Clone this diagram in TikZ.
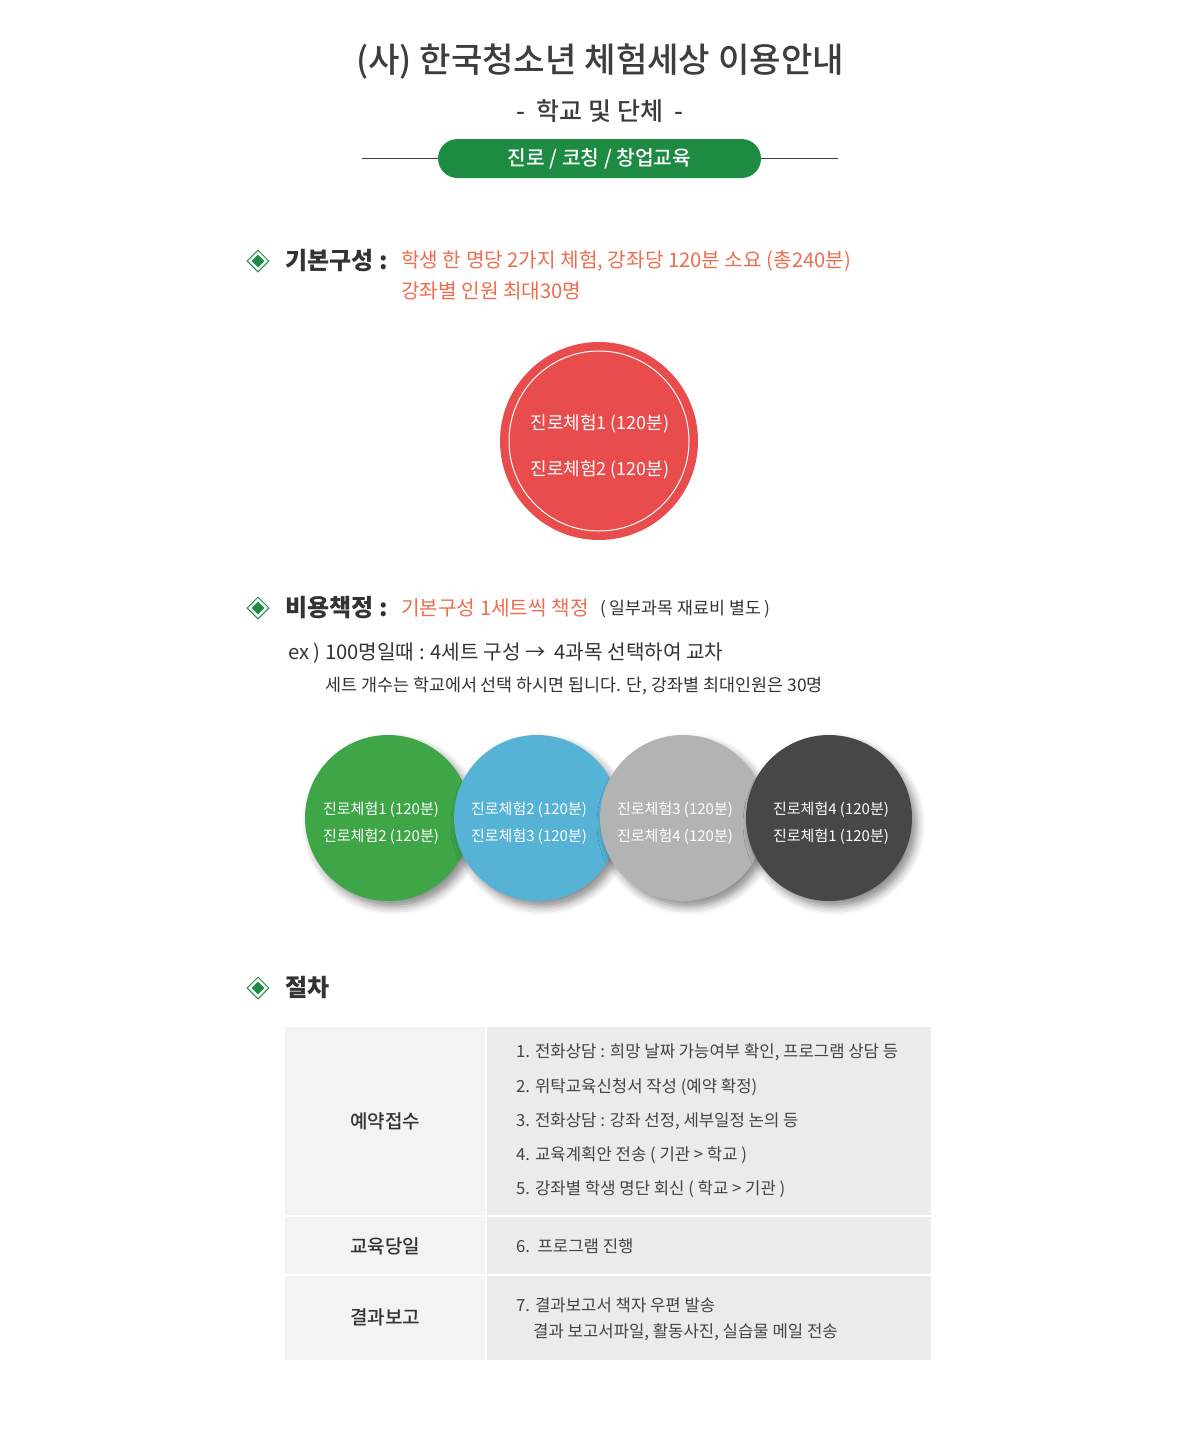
\documentclass[tikz,border=0pt]{standalone}
\usepackage{fontspec}
\setmainfont{Noto Sans CJK KR}
\newfontfamily\krmed{Noto Sans CJK KR Medium}
\usetikzlibrary{shapes.geometric,shadows.blur}

\definecolor{titlegray}{HTML}{3D3D3D}
\definecolor{darktext}{HTML}{333333}
\definecolor{bodytext}{HTML}{444444}
\definecolor{pillgreen}{HTML}{1E8B43}
\definecolor{salmon}{HTML}{EE6C4D}
\definecolor{redcircle}{HTML}{E84C4D}
\definecolor{setgreen}{HTML}{3EA646}
\definecolor{setblue}{HTML}{56B3D5}
\definecolor{setgray}{HTML}{B3B3B3}
\definecolor{setdark}{HTML}{474747}
\definecolor{cellleft}{HTML}{F3F3F3}
\definecolor{cellright}{HTML}{EBEBEB}

\tikzstyle{lbl}=[inner sep=0pt, anchor=west]
\tikzstyle{head}=[lbl, text=darktext, font=\bfseries\fontsize{24}{27}\selectfont]
\tikzstyle{accent}=[lbl, text=salmon, font=\fontsize{20.2}{23}\selectfont]
\tikzstyle{markout}=[diamond, draw=pillgreen, fill=white, line width=1pt, inner sep=0pt, minimum width=22pt, minimum height=22pt]
\tikzstyle{markin}=[diamond, fill=pillgreen, inner sep=0pt, minimum width=13pt, minimum height=13pt]
\tikzstyle{setcircle}=[circle, minimum size=166pt, inner sep=0pt, blur shadow={shadow xshift=5pt, shadow yshift=-6pt, shadow blur radius=8pt, shadow opacity=45}]
\tikzstyle{settext}=[inner sep=0pt, text=white, align=center, font=\fontsize{15}{27}\selectfont]
\tikzstyle{celltext}=[lbl, text=bodytext, font=\fontsize{16.7}{19}\selectfont]
\tikzstyle{celllabel}=[inner sep=0pt, text=darktext, font=\krmed\fontsize{19}{22}\selectfont]

\begin{document}
\begin{tikzpicture}[x=1pt, y=-1pt]
\useasboundingbox (0,0) rectangle (1200,1430);

% title block
\node[text=titlegray, font=\krmed\fontsize{34.2}{38}\selectfont] (title) at (600,62) {(사) 한국청소년 체험세상 이용안내};
\node[text=titlegray, font=\krmed\fontsize{25}{28}\selectfont] (subtitle) at (600,111) {-\ \ 학교 및 단체\ \ -};
\node[fill=pillgreen, text=white, minimum width=323pt, minimum height=39pt, rounded corners=19.5pt, inner sep=0pt, font=\krmed\fontsize{20.3}{23}\selectfont] (pill) at (599.5,158.5) {진로 / 코칭 / 창업교육};
\coordinate (ruleL) at (362,158.5);
\coordinate (ruleR) at (838,158.5);
\draw[titlegray, line width=0.8pt] (pill.west) -- (ruleL);
\draw[titlegray, line width=0.8pt] (pill.east) -- (ruleR);

% section markers
\foreach \y/\n in {261/a, 608/b, 988/c} {
  \node[markout] (mark\n) at (258,\y) {};
  \node[markin] (dot\n) at (mark\n) {};
}

% basic set
\node[head] (basic) at (285,261) {기본구성 :};
\node[accent] (basicA) at (401,261) {학생 한 명당 2가지 체험, 강좌당 120분 소요 (총240분)};
\node[accent] (basicB) at (401,291) {강좌별 인원 최대30명};

\node[circle, fill=redcircle, minimum size=198pt, inner sep=0pt] (redc) at (599,441) {};
\node[circle, draw=white, line width=1pt, minimum size=180pt, inner sep=0pt] (redring) at (redc) {};
\node[text=white, align=center, font=\fontsize{18}{46}\selectfont] (redtext) at (600,447) {진로체험1 (120분)\\진로체험2 (120분)};

% cost
\node[head] (cost) at (285,608) {비용책정 :};
\node[accent] (costA) at (401,608) {기본구성 1세트씩 책정};
\node[lbl, text=darktext, font=\fontsize{17.3}{20}\selectfont] (costB) at (600,609) {( 일부과목 재료비 별도 )};
\node[lbl, text=darktext, font=\fontsize{20.2}{23}\selectfont] (example) at (288,653) {ex ) 100명일때 : 4세트 구성 →\ \ 4과목 선택하여 교차};
\node[lbl, text=darktext, font=\fontsize{17.4}{20}\selectfont] (note) at (325,686) {세트 개수는 학교에서 선택 하시면 됩니다. 단, 강좌별 최대인원은 30명};

\node[setcircle, fill=setgreen] (set1) at (388,818) {};
\node[setcircle, fill=setblue] (set2) at (537,818) {};
\node[setcircle, fill=setgray] (set3) at (683,818) {};
\node[setcircle, fill=setdark] (set4) at (829,818) {};
\node[settext] (set1txt) at (381,823) {진로체험1 (120분)\\진로체험2 (120분)};
\node[settext] (set2txt) at (529,823) {진로체험2 (120분)\\진로체험3 (120분)};
\node[settext] (set3txt) at (675,823) {진로체험3 (120분)\\진로체험4 (120분)};
\node[settext] (set4txt) at (831,823) {진로체험4 (120분)\\진로체험1 (120분)};

% procedure
\node[head] (proc) at (285,988) {절차};

\fill[cellleft] (285,1027) rectangle (485,1215);
\fill[cellright] (487,1027) rectangle (931,1215);
\fill[cellleft] (285,1217) rectangle (485,1274);
\fill[cellright] (487,1217) rectangle (931,1274);
\fill[cellleft] (285,1276) rectangle (485,1360);
\fill[cellright] (487,1276) rectangle (931,1360);

\node[celllabel] (booking) at (385,1121) {예약접수};
\node[celllabel] (eduday) at (385,1246) {교육당일};
\node[celllabel] (report) at (385,1317) {결과보고};

\node[celltext] (step1) at (516,1052) {1. 전화상담 : 희망 날짜 가능여부 확인, 프로그램 상담 등};
\node[celltext] (step2) at (516,1087) {2. 위탁교육신청서 작성 (예약 확정)};
\node[celltext] (step3) at (516,1121) {3. 전화상담 : 강좌 선정, 세부일정 논의 등};
\node[celltext] (step4) at (516,1155) {4. 교육계획안 전송 ( 기관 > 학교 )};
\node[celltext] (step5) at (516,1189) {5. 강좌별 학생 명단 회신 ( 학교 > 기관 )};
\node[celltext] (step6) at (516,1246) {6.\ \ 프로그램 진행};
\node[celltext] (step7) at (516,1305) {7. 결과보고서 책자 우편 발송};
\node[celltext] (step7b) at (533,1332) {결과 보고서파일, 활동사진, 실습물 메일 전송};

\end{tikzpicture}
\end{document}
